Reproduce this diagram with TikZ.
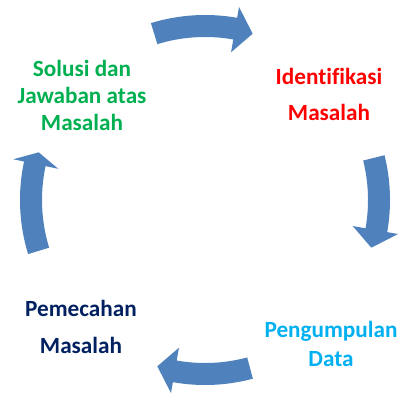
\documentclass[tikz,border=0pt]{standalone}
\usepackage{fontspec}
\setmainfont[Ligatures=NoCommon]{Carlito}
\usetikzlibrary{calc}
\definecolor{arrowblue}{HTML}{4F81BD}
\definecolor{solgreen}{HTML}{00B050}
\definecolor{idred}{HTML}{FF0000}
\definecolor{pemnavy}{HTML}{002060}
\definecolor{datacyan}{HTML}{00B0F0}
\tikzset{steplabel/.style={align=center,font=\bfseries\fontsize{16.5}{#1}\selectfont},
  cyclearrow/.style={fill=arrowblue}}
\begin{document}
\begin{tikzpicture}[x=0.025cm,y=0.025cm]
\useasboundingbox (0,0) rectangle (398,394);
\coordinate (ctr) at (205,194);
\foreach \ta/\ba/\pa in {107/80/74, 14/-10/-16, -75/-100/-106, 197/168/164}{
\fill[cyclearrow] ($(ctr)+(\ta:185)$) arc[start angle=\ta,end angle=\ba,radius=185]
  -- ($(ctr)+(\ba:196)$) -- ($(ctr)+(\pa:173)$) -- ($(ctr)+(\ba:150)$)
  -- ($(ctr)+(\ba:163)$) arc[start angle=\ba,end angle=\ta,radius=163] -- cycle;
}
\node[steplabel=19.2,text=solgreen] (solusi) at (82,299) {Solusi dan\\Jawaban atas\\Masalah};
\node[steplabel=25.6,text=idred] (identifikasi) at (329,300) {Identifikasi\\Masalah};
\node[steplabel=26.3,text=pemnavy] (pemecahan) at (81,67.5) {Pemecahan\\Masalah};
\node[steplabel=20,text=datacyan] (pengumpulan) at (331,50) {Pengumpulan\\Data};
\end{tikzpicture}
\end{document}
